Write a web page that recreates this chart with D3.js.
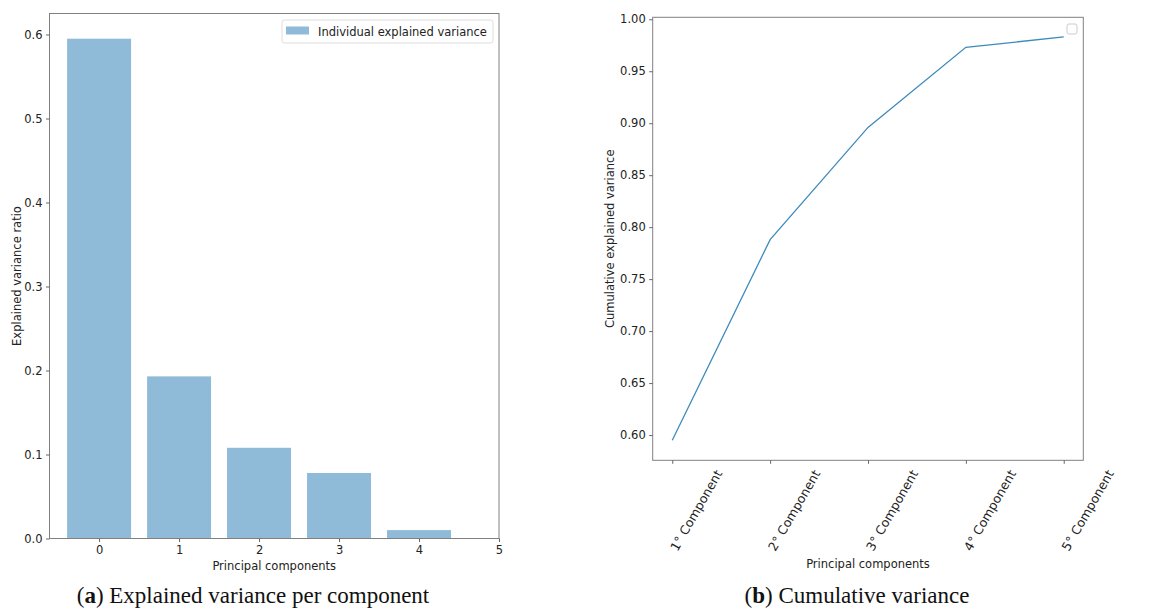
<!DOCTYPE html>
<html lang="en">
<head>
    <meta charset="UTF-8">
    <title>PCA explained variance</title>
    <script src="https://d3js.org/d3.v7.min.js"></script>
    <style>
        body {
            margin: 0;
            background: #fff;
        }

        svg {
            display: block;
        }

        .tick text, .axis-label {
            font-family: "DejaVu Sans", sans-serif;
            font-size: 11.5px;
            fill: #222;
        }

        .tick text.rot {
            font-size: 12.5px;
        }

        .tick line {
            stroke: #666;
        }

        .caption {
            font-family: "Liberation Serif", serif;
            font-size: 23px;
            fill: #111;
        }
    </style>
</head>
<body>
    <div id="chart"></div>
    <script>
        // values
        const components = [0, 1, 2, 3, 4];
        const explainedVariance = [0.595, 0.193, 0.108, 0.078, 0.010];
        const cumulativeVariance = [0.595, 0.788, 0.896, 0.973, 0.983];
        const componentLabels = ["1° Component", "2° Component", "3° Component", "4° Component", "5° Component"];
        const barXTicks = [0, 1, 2, 3, 4, 5];
        const barYTicks = [0, 0.1, 0.2, 0.3, 0.4, 0.5, 0.6];
        const lineYTicks = [0.60, 0.65, 0.70, 0.75, 0.80, 0.85, 0.90, 0.95, 1.00];

        const svg = d3.select("#chart")
            .append("svg")
            .attr("width", 1158)
            .attr("height", 609);

        const barColor = "#8fbbd9";
        const lineColor = "#3f8abd";
        const frameColor = "#808080";

        // ---------- (a) bar chart ----------
        const left = { x0: 49.5, x1: 499, y0: 13.5, y1: 538.5 };

        const xA = d3.scaleLinear().domain([-0.62, 5]).range([left.x0, left.x1]);
        const yA = d3.scaleLinear().domain([0, 0.625]).range([left.y1, left.y0]);

        const gA = svg.append("g");

        gA.selectAll(".bar")
            .data(components)
            .enter()
            .append("rect")
            .attr("class", "bar")
            .attr("x", d => xA(d - 0.4))
            .attr("width", d => xA(d + 0.4) - xA(d - 0.4))
            .attr("y", (d, i) => yA(explainedVariance[i]))
            .attr("height", (d, i) => yA(0) - yA(explainedVariance[i]))
            .attr("fill", barColor);

        gA.append("rect")
            .attr("x", left.x0)
            .attr("y", left.y0)
            .attr("width", left.x1 - left.x0)
            .attr("height", left.y1 - left.y0)
            .attr("fill", "none")
            .attr("stroke", frameColor);

        gA.append("g")
            .attr("transform", `translate(0, ${left.y1})`)
            .call(d3.axisBottom(xA).tickValues(barXTicks).tickSize(3.5).tickPadding(3.5).tickFormat(d3.format("d")))
            .call(g => g.select(".domain").remove());

        gA.append("g")
            .attr("transform", `translate(${left.x0}, 0)`)
            .call(d3.axisLeft(yA).tickValues(barYTicks).tickSize(3.5).tickPadding(3.5).tickFormat(d3.format(".1f")))
            .call(g => g.select(".domain").remove());

        gA.append("text")
            .attr("class", "axis-label")
            .attr("x", (left.x0 + left.x1) / 2)
            .attr("y", 570)
            .attr("text-anchor", "middle")
            .text("Principal components");

        gA.append("text")
            .attr("class", "axis-label")
            .attr("transform", `translate(21, ${(left.y0 + left.y1) / 2}) rotate(-90)`)
            .attr("text-anchor", "middle")
            .text("Explained variance ratio");

        // legend
        const legA = gA.append("g").attr("transform", "translate(282, 20)");
        legA.append("rect")
            .attr("width", 211)
            .attr("height", 23)
            .attr("rx", 2.5)
            .attr("fill", "#fff")
            .attr("stroke", "#ddd");
        legA.append("rect")
            .attr("x", 4)
            .attr("y", 6.5)
            .attr("width", 23)
            .attr("height", 8)
            .attr("fill", barColor);
        legA.append("text")
            .attr("class", "axis-label")
            .attr("x", 36)
            .attr("y", 15.5)
            .text("Individual explained variance");

        // ---------- (b) cumulative line ----------
        const right = { x0: 652.7, x1: 1083.3, y0: 17.3, y1: 460.3 };

        const xB = d3.scaleLinear().domain([-0.2, 4.2]).range([right.x0, right.x1]);
        const yB = d3.scaleLinear().domain([0.5757, 1.0019]).range([right.y1, right.y0]);

        const gB = svg.append("g");

        const line = d3.line()
            .x((d, i) => xB(components[i]))
            .y(d => yB(d));

        gB.append("path")
            .datum(cumulativeVariance)
            .attr("d", line)
            .attr("fill", "none")
            .attr("stroke", lineColor)
            .attr("stroke-width", 1.3);

        gB.append("rect")
            .attr("x", right.x0)
            .attr("y", right.y0)
            .attr("width", right.x1 - right.x0)
            .attr("height", right.y1 - right.y0)
            .attr("fill", "none")
            .attr("stroke", frameColor);

        const xAxisB = gB.append("g")
            .attr("transform", `translate(0, ${right.y1})`)
            .call(d3.axisBottom(xB).tickValues(components).tickSize(3.5).tickFormat(""))
            .call(g => g.select(".domain").remove());

        xAxisB.selectAll(".tick")
            .append("text")
            .attr("class", "rot")
            .attr("text-anchor", "end")
            .attr("fill", "#222")
            .attr("transform", "translate(50, 13) rotate(-60)")
            .text(d => componentLabels[d]);

        gB.append("g")
            .attr("transform", `translate(${right.x0}, 0)`)
            .call(d3.axisLeft(yB).tickValues(lineYTicks).tickSize(3.5).tickPadding(3.5).tickFormat(d3.format(".2f")))
            .call(g => g.select(".domain").remove());

        gB.append("text")
            .attr("class", "axis-label")
            .attr("x", (right.x0 + right.x1) / 2)
            .attr("y", 568)
            .attr("text-anchor", "middle")
            .text("Principal components");

        gB.append("text")
            .attr("class", "axis-label")
            .attr("transform", `translate(614, ${(right.y0 + right.y1) / 2}) rotate(-90)`)
            .attr("text-anchor", "middle")
            .text("Cumulative explained variance");

        // empty legend box
        gB.append("rect")
            .attr("x", 1067)
            .attr("y", 24)
            .attr("width", 10)
            .attr("height", 10)
            .attr("rx", 2)
            .attr("fill", "#fff")
            .attr("stroke", "#ccc");

        // ---------- captions ----------
        const capA = svg.append("text")
            .attr("class", "caption")
            .attr("x", 253)
            .attr("y", 603)
            .attr("text-anchor", "middle");
        capA.append("tspan").text("(");
        capA.append("tspan").attr("font-weight", "bold").text("a");
        capA.append("tspan").text(") Explained variance per component");

        const capB = svg.append("text")
            .attr("class", "caption")
            .attr("x", 857)
            .attr("y", 603)
            .attr("text-anchor", "middle");
        capB.append("tspan").text("(");
        capB.append("tspan").attr("font-weight", "bold").text("b");
        capB.append("tspan").text(") Cumulative variance");
    </script>
</body>
</html>
